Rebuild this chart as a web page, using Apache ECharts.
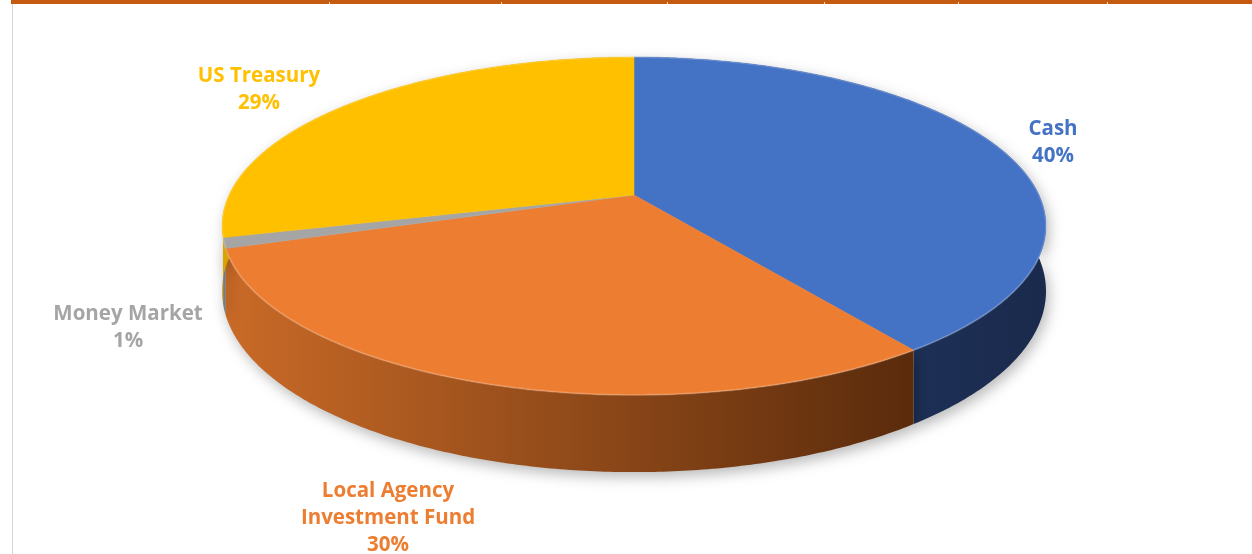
<!DOCTYPE html>
<html><head><meta charset="utf-8">
<script src="https://cdn.jsdelivr.net/npm/echarts@6/dist/echarts.min.js"></script>
<style>html,body{margin:0;padding:0;background:#fff}#c{width:1252px;height:554px}</style>
</head><body><div id="c"></div>
<script>
// ---- data ----
const categories = ['Cash', 'Local Agency\nInvestment Fund', 'Money Market', 'US Treasury'];
const values = [40, 30, 1, 29];

// ---- styles / layout (kept separate from data) ----
const topColors = ['#4472C4', '#ED7D31', '#A5A5A5', '#FFC000'];
const sideColors = [['#243b6c', '#1a2a4c'], ['#c96a27', '#5a2b0c'], ['#8c8c8c', '#6e6e6e'], ['#d9a400', '#a97f00']];
const labelColors = ['#4472C4', '#ED7D31', '#A5A5A5', '#FFC000'];
const labelAnchor = [[1053, 143], [388, 518], [128, 328], [259, 90]];
const G = { cx: 634, cy: 195, A: 405, B: 163.3, k: 0.1834, D: 63 };
const FONT = 'bold 20.5px "Open Sans"';

const total = values.reduce((a, b) => a + b, 0);
const starts = [];
{ let acc = 0; values.forEach(v => { starts.push(acc); acc += v; }); }

function proj(theta) {
  const u = Math.sin(theta), v = -Math.cos(theta);
  const s = 1 / (1 - G.k * v);
  return [G.cx + G.A * u * s, G.cy + G.B * v * s, s];
}
function arc(i) {
  const a0 = starts[i] / total * Math.PI * 2;
  const a1 = (starts[i] + values[i]) / total * Math.PI * 2;
  const n = Math.max(4, Math.ceil((a1 - a0) / 0.01));
  const pts = [];
  for (let j = 0; j <= n; j++) pts.push(proj(a0 + (a1 - a0) * j / n));
  return pts;
}

const chart = echarts.init(document.getElementById('c'));
const seriesData = values.map((v, i) => [i, v]);

chart.setOption({
  backgroundColor: '#ffffff',
  animation: false,
  graphic: [
    { type: 'rect', shape: { x: 11, y: 0, width: 1241, height: 4 }, style: { fill: '#C55A11' } },
    { type: 'rect', shape: { x: 12, y: 4, width: 1, height: 550 }, style: { fill: '#d6d6d6' } },
    ...[329, 501, 667, 824, 958, 1107].map(x => ({ type: 'rect', shape: { x: x, y: 2, width: 1, height: 2 }, style: { fill: '#f3d9c8' } }))
  ],
  series: [
    {
      type: 'custom', coordinateSystem: 'none', z: 1, data: seriesData,
      renderItem: function (params, api) {
        const i = params.dataIndex;
        const pts = arc(i);
        const top = pts.map(p => [p[0], p[1]]);
        const bot = pts.map(p => [p[0], p[1] + G.D * p[2]]).reverse();
        return {
          type: 'polygon',
          shape: { points: top.concat(bot) },
          style: {
            fill: new echarts.graphic.LinearGradient(0, 0, 1, 0, [
              { offset: 0, color: sideColors[i][0] }, { offset: 1, color: sideColors[i][1] }
            ]),
            shadowBlur: 14, shadowColor: 'rgba(0,0,0,0.28)', shadowOffsetX: 3, shadowOffsetY: 5
          }
        };
      }
    },
    {
      type: 'custom', coordinateSystem: 'none', z: 2, data: seriesData,
      renderItem: function (params, api) {
        const i = params.dataIndex;
        const pts = arc(i).map(p => [p[0], p[1]]);
        const pct = Math.round(values[i] / total * 100) + '%';
        return {
          type: 'group',
          children: [
            { type: 'polygon', shape: { points: [[G.cx, G.cy]].concat(pts) }, style: { fill: topColors[i], stroke: topColors[i], lineWidth: 0.5 } },
            { type: 'polyline', shape: { points: pts }, style: { fill: null, stroke: 'rgba(255,255,255,0.18)', lineWidth: 2 } },
            {
              type: 'text',
              style: {
                text: categories[i] + '\n' + pct,
                x: labelAnchor[i][0], y: labelAnchor[i][1],
                fill: labelColors[i], font: FONT,
                align: 'center', verticalAlign: 'middle', lineHeight: 27
              }
            }
          ]
        };
      }
    }
  ]
});
</script>
</body></html>
